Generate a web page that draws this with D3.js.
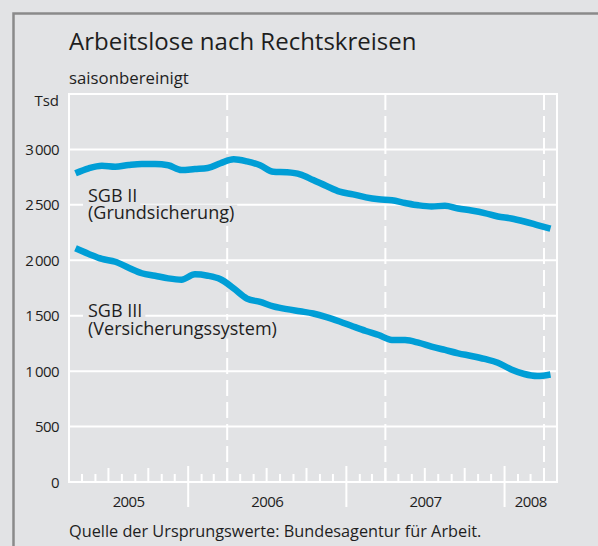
<!DOCTYPE html>
<html><head><meta charset="utf-8">
<script src="https://cdn.jsdelivr.net/npm/d3@7"></script>
<style>body{margin:0;background:#e2e3e5} svg{display:block} text{font-family:"Open Sans",sans-serif;fill:#1e1e1e}</style>
</head><body><svg id="c" width="598" height="546"></svg>
<script>
const months = ["2005-04","2005-05","2005-06","2005-07","2005-08","2005-09","2005-10","2005-11","2005-12",
"2006-01","2006-02","2006-03","2006-04","2006-05","2006-06","2006-07","2006-08","2006-09","2006-10","2006-11","2006-12",
"2007-01","2007-02","2007-03","2007-04","2007-05","2007-06","2007-07","2007-08","2007-09","2007-10","2007-11","2007-12",
"2008-01","2008-02","2008-03","2008-04"];
const sgb2 = [2785,2830,2853,2844,2859,2868,2868,2857,2814,2823,2832,2875,2911,2892,2857,2799,2794,2776,2724,2670,2619,2595,2568,2550,2541,2517,2496,2485,2492,2467,2449,2426,2395,2377,2350,2318,2285];
const sgb3 = [2108,2057,2012,1987,1933,1883,1861,1837,1825,1873,1861,1829,1747,1655,1624,1585,1559,1540,1520,1488,1448,1403,1362,1326,1282,1280,1257,1222,1191,1161,1137,1110,1076,1015,974,956,970];
const yTicks = [0,500,1000,1500,2000,2500,3000];
const yearLabels = ["2005","2006","2007","2008"];
const title = "Arbeitslose nach Rechtskreisen";
const subtitle = "saisonbereinigt";
const unit = "Tsd";
const source = "Quelle der Ursprungswerte: Bundesagentur für Arbeit.";
const label2 = ["SGB II","(Grundsicherung)"];
const label3 = ["SGB III","(Versicherungssystem)"];

const svg = d3.select("#c");
const W=598,H=546;
const L=69,R=557,T=94,B=482;
const parse = d3.timeParse("%Y-%m");
const dates = months.map(parse);
const x = d3.scaleTime().domain([dates[0], d3.timeMonth.offset(dates[dates.length-1],1)]).range([L,R]);
const y = d3.scaleLinear().domain([0,3500]).range([B,T]);
const xm = d => (x(d)+x(d3.timeMonth.offset(d,1)))/2;

svg.append("rect").attr("width",W).attr("height",H).attr("fill","#e2e3e5");
svg.append("path").attr("d",`M13.5,${H} V13.5 H${W}`).attr("fill","none").attr("stroke","#8a8a8a").attr("stroke-width",2.5);

// texts
svg.append("text").attr("x",L).attr("y",50).attr("font-size",24).text(title);
svg.append("text").attr("x",L).attr("y",84).attr("font-size",16.8).text(subtitle);
svg.append("text").attr("x",L).attr("y",537).attr("font-size",16.3).text(source);

// grid
const g = svg.append("g");
g.selectAll("line.grid").data(yTicks.filter(v=>v>0)).join("line")
  .attr("x1",L).attr("x2",R).attr("y1",d=>y(d)).attr("y2",d=>y(d))
  .attr("stroke","#fff").attr("stroke-width",2);

// dashed april lines
const aprils = x.ticks(d3.timeMonth.every(1)).filter(d=>d.getMonth()===3 && +d>+x.domain()[0]);
g.selectAll("line.dash").data(aprils).join("line")
  .attr("x1",d=>x(d)).attr("x2",d=>x(d)).attr("y1",T).attr("y2",B)
  .attr("stroke","#fff").attr("stroke-width",2).attr("stroke-dasharray","16,6");

// frame
g.append("rect").attr("x",L).attr("y",T).attr("width",R-L).attr("height",B-T)
  .attr("fill","none").attr("stroke","#fff").attr("stroke-width",2);

// month ticks
const mt = x.ticks(d3.timeMonth.every(1)).filter(d=>+d>+x.domain()[0] && +d<+x.domain()[1]);
g.selectAll("line.mt").data(mt).join("line")
  .attr("x1",d=>x(d)).attr("x2",d=>x(d))
  .attr("y1",d=>d.getMonth()===0?B-16:(d.getMonth()%3===0?B-14:B-8))
  .attr("y2",d=>d.getMonth()===0?B+25:B)
  .attr("stroke","#fff").attr("stroke-width",2);

// year labels
const ystarts = yearLabels.map(s=>parse(s+"-01"));
yearLabels.forEach((s,i)=>{
  const a = Math.max(x(ystarts[i]),L);
  const b = Math.min(x(d3.timeYear.offset(ystarts[i],1)),R);
  svg.append("text").attr("x",(a+b)/2).attr("y",507).attr("text-anchor","middle")
    .attr("font-size",15).attr("letter-spacing",-0.6).text(s);
});

// y labels
const fmt = v => d3.format(",")(v).replace(",","\u2009");
svg.selectAll("text.yl").data(yTicks).join("text")
  .attr("x",59).attr("y",d=>y(d)+5.5).attr("text-anchor","end")
  .attr("font-size",15).attr("letter-spacing",-0.6).text(fmt);
svg.append("text").attr("x",59).attr("y",106).attr("text-anchor","end").attr("font-size",15).text(unit);

// series labels with background (one text element, one tspan per line)
const labGroup = svg.append("g");
function lab(lines, x0, bases){
  const fs=18;
  const rg = labGroup.append("g");
  const tx = labGroup.append("text").attr("font-size",fs);
  lines.forEach((t,i)=>{
    const ts = tx.append("tspan").attr("x",x0).attr("y",bases[i]).text(t);
    const w = ts.node().getComputedTextLength();
    rg.append("rect").attr("x",x0-5).attr("y",bases[i]-fs*0.8).attr("width",w+8).attr("height",fs*1.02)
      .attr("fill","#e2e3e5");
  });
}
lab(label2, 88, [202,219]);
lab(label3, 88, [317,334.5]);

// lines
const line = d3.line().x((d,i)=>xm(dates[i])).y(d=>y(d)).curve(d3.curveMonotoneX);
[sgb2,sgb3].forEach(s=>{
  svg.append("path").datum(s).attr("d",line).attr("fill","none")
    .attr("stroke","#009ed6").attr("stroke-width",6.5).attr("stroke-linejoin","round");
});
</script></body></html>
